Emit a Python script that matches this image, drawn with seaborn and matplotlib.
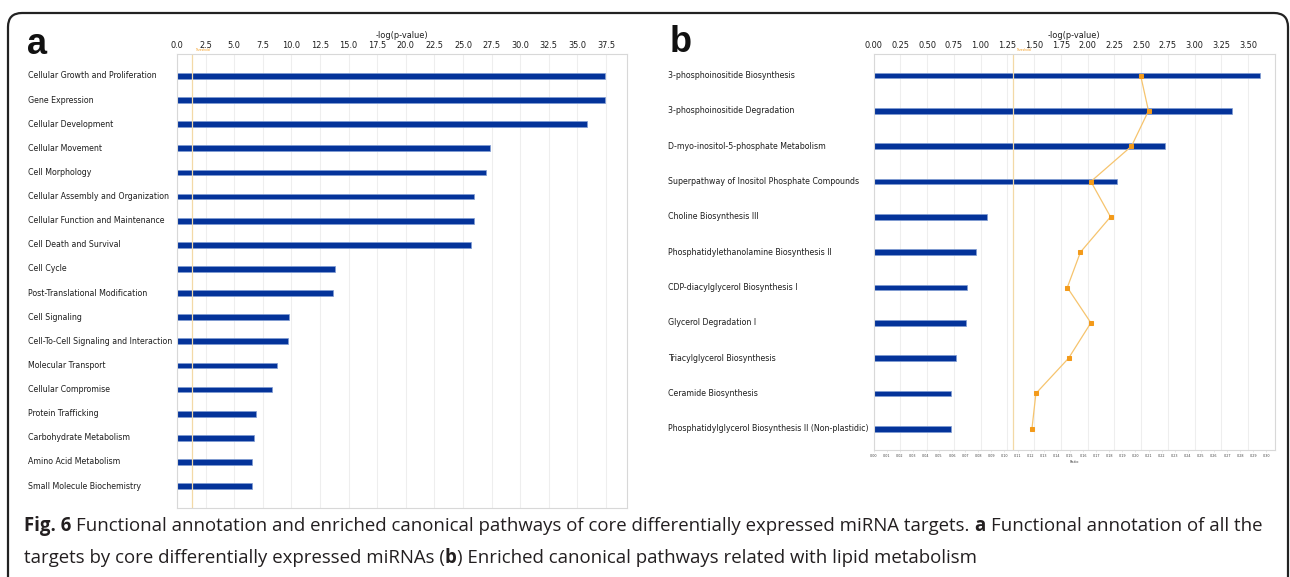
import numpy as np
import matplotlib
matplotlib.use("Agg")
import matplotlib.pyplot as plt
import seaborn as sns
from matplotlib import transforms, font_manager
from matplotlib.patches import FancyBboxPatch

# ---------------- data ----------------
a_categories = [
    "Cellular Growth and Proliferation", "Gene Expression", "Cellular Development",
    "Cellular Movement", "Cell Morphology", "Cellular Assembly and Organization",
    "Cellular Function and Maintenance", "Cell Death and Survival", "Cell Cycle",
    "Post-Translational Modification", "Cell Signaling",
    "Cell-To-Cell Signaling and Interaction", "Molecular Transport",
    "Cellular Compromise", "Protein Trafficking", "Carbohydrate Metabolism",
    "Amino Acid Metabolism", "Small Molecule Biochemistry",
]
a_logp = [37.4, 37.4, 35.8, 27.4, 27.0, 26.0, 26.0, 25.7, 13.8, 13.6,
          9.8, 9.7, 8.7, 8.3, 6.9, 6.7, 6.6, 6.6]
a_ticks = [0.0, 2.5, 5.0, 7.5, 10.0, 12.5, 15.0, 17.5, 20.0, 22.5, 25.0,
           27.5, 30.0, 32.5, 35.0, 37.5]

b_categories = [
    "3-phosphoinositide Biosynthesis", "3-phosphoinositide Degradation",
    "D-myo-inositol-5-phosphate Metabolism",
    "Superpathway of Inositol Phosphate Compounds", "Choline Biosynthesis III",
    "Phosphatidylethanolamine Biosynthesis II", "CDP-diacylglycerol Biosynthesis I",
    "Glycerol Degradation I", "Triacylglycerol Biosynthesis",
    "Ceramide Biosynthesis", "Phosphatidylglycerol Biosynthesis II (Non-plastidic)",
]
b_logp = [3.61, 3.35, 2.72, 2.28, 1.06, 0.96, 0.87, 0.86, 0.77, 0.72, 0.72]
b_ratio = [0.204, 0.210, 0.197, 0.166, 0.181, 0.158, 0.148, 0.166, 0.149, 0.124, 0.121]
b_ticks = [0.00, 0.25, 0.50, 0.75, 1.00, 1.25, 1.50, 1.75, 2.00, 2.25, 2.50,
           2.75, 3.00, 3.25, 3.50]
ratio_ticks = [round(0.01 * i, 2) for i in range(31)]

threshold = 1.3  # -log10(0.05)

caption_line1 = [("Fig. 6", True),
                 ("Functional annotation and enriched canonical pathways of core "
                  "differentially expressed miRNA targets.", False),
                 ("a", True), ("Functional annotation of all the", False)]
caption_line2 = [("targets by core differentially expressed miRNAs (", False),
                 ("b", True, "nogap"),
                 (") Enriched canonical pathways related with lipid metabolism", False, "nogap")]

# ---------------- fonts ----------------
sns.set_style("white")
fm = font_manager.fontManager
names = {f.name for f in fm.ttflist}
NARROW = ("condensed", "semi-condensed", "extra-condensed", "ultra-condensed")


def pick_narrow():
    if "Liberation Sans Narrow" in names:
        return "Liberation Sans Narrow", "normal"
    for fam in ("DejaVu Sans", "Noto Sans", "Open Sans", "Roboto", "Liberation Sans"):
        for f in fm.ttflist:
            if f.name == fam and str(f.stretch) in NARROW:
                return fam, str(f.stretch)
    for f in fm.ttflist:
        if "Narrow" in f.name or "Condensed" in f.name:
            return f.name, "normal"
    return "DejaVu Sans", "normal"


label_font, label_stretch = pick_narrow()
cap_font = "Open Sans" if "Open Sans" in names else "DejaVu Sans"
plt.rcParams["font.family"] = [label_font, "DejaVu Sans"]

BAR = "#04339a"
EDGE = "#7f9bd3"
GRID = "#eeeeee"
FRAME = "#d8d8d8"
THR = "#f3d9a6"
LINE = "#f6c46e"
MARK = "#f39a1a"
TXT = "#1e1e1e"

W, H = 1290, 577
fig = plt.figure(figsize=(W / 100, H / 100), dpi=100)
renderer = fig.canvas.get_renderer()


def fx(px):
    return px / W


def fy(py):
    return 1 - py / H


def measure(s, **kw):
    t = fig.text(0, 0, s, **kw)
    w = t.get_window_extent(renderer).width
    t.remove()
    return w


# row-label size: the longest panel-a label spans about 144 px
lbl_kw = dict(family=[label_font, "DejaVu Sans"], fontstretch=label_stretch)
w_long = measure("Cell-To-Cell Signaling and Interaction", fontsize=10, **lbl_kw)
label_size = min(7.0, 10 * 144 / w_long)
tick_size = min(7.0, label_size * 1.05)


def style_axes(ax):
    for s in ax.spines.values():
        s.set_color(FRAME)
        s.set_linewidth(0.8)
    ax.set_axisbelow(True)
    ax.grid(axis="x", color=GRID, lw=0.8)
    ax.grid(axis="y", visible=False)
    ax.xaxis.tick_top()
    ax.xaxis.set_label_position("top")
    ax.tick_params(axis="x", length=0, pad=3, labelsize=tick_size, labelcolor=TXT)
    for lab in ax.get_xticklabels():
        lab.set_fontstretch(label_stretch)
    ax.set_yticks([])
    ax.set_ylabel("")


def row_labels(ax, cats, x_px):
    trans = transforms.blended_transform_factory(fig.transFigure, ax.transData)
    for i, c in enumerate(cats):
        ax.text(fx(x_px), i, c, transform=trans, ha="left", va="center",
                fontsize=label_size, color=TXT, clip_on=False, **lbl_kw)


# ---------------- panel a ----------------
ax_a = fig.add_axes([fx(177), fy(508), fx(627) - fx(177), (508 - 54) / H])
sns.barplot(x=a_logp, y=a_categories, orient="h", color=BAR, width=0.24,
            edgecolor=EDGE, linewidth=0.5, saturation=1, ax=ax_a)
ax_a.axvline(threshold, color=THR, lw=0.9, zorder=1.5)
ax_a.set_xlim(0, 39.34)
ax_a.set_ylim(len(a_categories) - 1 + 0.91, -0.91)
ax_a.set_xticks(a_ticks)
ax_a.set_xticklabels([f"{t:.1f}" for t in a_ticks])
style_axes(ax_a)
ax_a.set_xlabel("-log(p-value)", fontsize=tick_size, labelpad=2, color=TXT, **lbl_kw)
row_labels(ax_a, a_categories, 28)
ax_a.text(threshold + 0.3, 1.004, "Threshold", transform=ax_a.get_xaxis_transform(),
          fontsize=2.2, color=MARK, ha="left", va="bottom")

# ---------------- panel b ----------------
ax_b = fig.add_axes([fx(873.5), fy(450), fx(1275) - fx(873.5), (450 - 54) / H])
sns.barplot(x=b_logp, y=b_categories, orient="h", color=BAR, width=0.16,
            edgecolor=EDGE, linewidth=0.5, saturation=1, ax=ax_b)
ax_b.axvline(threshold, color=THR, lw=0.9, zorder=1.5)
ax_b.set_xlim(0, 3.752)

# ratio on a secondary x axis drawn along the bottom
ax_r = ax_b.twiny()
sns.lineplot(x=b_ratio, y=np.arange(len(b_ratio)), sort=False, estimator=None,
             orient="y", color=LINE, lw=0.9, marker="s", markersize=2.6,
             markerfacecolor=MARK, markeredgecolor=MARK, ax=ax_r)
ax_r.set_xlim(0, 0.3066)
ax_r.set_xticks(ratio_ticks)
ax_r.set_xticklabels([f"{t:.2f}" for t in ratio_ticks])
ax_r.xaxis.tick_bottom()
ax_r.xaxis.set_label_position("bottom")
ax_r.tick_params(axis="x", length=1.2, width=0.4, color=FRAME, pad=1.5,
                 labelsize=2.4, labelcolor="#444444")
ax_r.set_xlabel("Ratio", fontsize=2.6, labelpad=1.5, color="#444444")
ax_r.set_ylabel("")
ax_r.set_yticks([])
for s in ax_r.spines.values():
    s.set_visible(False)

ax_b.set_xticks(b_ticks)
ax_b.set_xticklabels([f"{t:.2f}" for t in b_ticks])
style_axes(ax_b)
ax_b.set_xlabel("-log(p-value)", fontsize=tick_size, labelpad=2, color=TXT, **lbl_kw)
row_labels(ax_b, b_categories, 668)
ax_b.text(threshold + 0.03, 1.004, "Threshold", transform=ax_b.get_xaxis_transform(),
          fontsize=2.2, color=MARK, ha="left", va="bottom")
ax_b.set_ylim(len(b_categories) - 1 + 0.6, -0.61)

# ---------------- panel letters ----------------
fig.text(fx(27), fy(45), "a", fontsize=26, fontweight="bold",
         family=["Liberation Sans", "DejaVu Sans"], va="center", ha="left", color="#111111")
fig.text(fx(670), fy(43), "b", fontsize=26, fontweight="bold",
         family=["Liberation Sans", "DejaVu Sans"], va="center", ha="left", color="#111111")

# ---------------- caption ----------------
def text_width(s, size, bold):
    return measure(s, fontsize=size, fontweight="bold" if bold else "normal",
                   family=cap_font)


def line_width(pieces, size):
    sp = text_width("n n", size, False) - text_width("nn", size, False)
    total = 0
    for k, p in enumerate(pieces):
        if k > 0 and "nogap" not in p:
            total += sp
        total += text_width(p[0], size, p[1])
    return total, sp


base = 12.0
w0, _ = line_width(caption_line1, base)
cap_size = base * (1260 - 24) / w0


def draw_caption(pieces, x_px, base_px):
    _, sp = line_width(pieces, cap_size)
    x = x_px
    for k, p in enumerate(pieces):
        if k > 0 and "nogap" not in p:
            x += sp
        t = fig.text(fx(x), fy(base_px), p[0], fontsize=cap_size,
                     fontweight="bold" if p[1] else "normal", family=cap_font,
                     color="#231f20", va="baseline", ha="left")
        x += t.get_window_extent(renderer).width


draw_caption(caption_line1, 24, 531)
draw_caption(caption_line2, 24, 563)

# ---------------- outer frame ----------------
frame = FancyBboxPatch((8, -40), 1280, (H - 13) + 40,
                       boxstyle="round,pad=0,rounding_size=14",
                       transform=transforms.IdentityTransform(),
                       fill=False, lw=1.6, ec="#222222")
fig.add_artist(frame)

fig.savefig("out.png", dpi=100)
